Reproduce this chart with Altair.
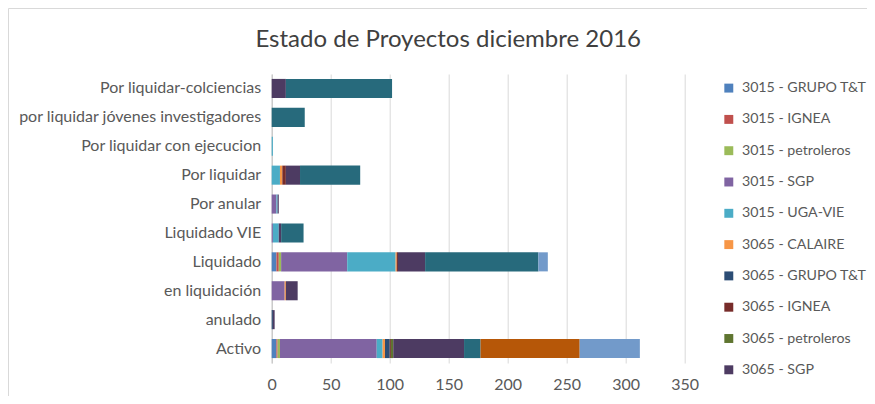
import altair as alt
import pandas as pd

categories = [
    "Por liquidar-colciencias",
    "por liquidar jóvenes investigadores",
    "Por liquidar con ejecucion",
    "Por liquidar",
    "Por anular",
    "Liquidado VIE",
    "Liquidado",
    "en liquidación",
    "anulado",
    "Activo",
]

series_names = [
    "3015 - GRUPO T&T",
    "3015 - IGNEA",
    "3015 - petroleros",
    "3015 - SGP",
    "3015 - UGA-VIE",
    "3065 - CALAIRE",
    "3065 - GRUPO T&T",
    "3065 - IGNEA",
    "3065 - petroleros",
    "3065 - SGP",
    "3065 - UGA-VIE",
    "3066 - CALAIRE",
    "3066 - GRUPO T&T",
]

s_3015_grupo = [0, 0, 0, 0, 0, 0, 4, 0, 0, 4]
s_3015_ignea = [0, 0, 0, 0, 0, 0, 2, 0, 0, 1]
s_3015_petro = [0, 0, 0, 0, 0, 0, 2, 0, 0, 2]
s_3015_sgp = [0, 0, 0, 0, 4, 1, 56, 11, 0, 82]
s_3015_uga = [0, 0, 1, 7, 1, 5, 41, 0, 0, 5]
s_3065_calaire = [0, 0, 0, 2, 0, 0, 1, 1, 0, 2]
s_3065_grupo = [0, 0, 0, 0, 0, 0, 0, 0, 1, 4]
s_3065_ignea = [0, 0, 0, 3, 0, 0, 1, 0, 0, 1]
s_3065_petro = [0, 0, 0, 0, 0, 0, 0, 0, 0, 2]
s_3065_sgp = [12, 0, 0, 12, 1, 2, 23, 10, 1.5, 60]
s_3065_uga = [90, 28, 0, 51, 0, 19, 96, 0, 0, 14]
s_3066_calaire = [0, 0, 0, 0, 0, 0, 0, 0, 0, 84]
s_3066_grupo = [0, 0, 0, 0, 0, 0, 8, 0, 0, 51]

series_values = [
    s_3015_grupo, s_3015_ignea, s_3015_petro, s_3015_sgp, s_3015_uga,
    s_3065_calaire, s_3065_grupo, s_3065_ignea, s_3065_petro, s_3065_sgp,
    s_3065_uga, s_3066_calaire, s_3066_grupo,
]

colors = [
    "#4F81BD", "#C0504D", "#9BBB59", "#8064A2", "#4BACC6", "#F79646",
    "#2C4D75", "#772C2A", "#5F7530", "#4D3B62", "#276A7C", "#B65708", "#729ACA",
]

x_ticks = [0, 50, 100, 150, 200, 250, 300, 350]
title_text = ["Estado de Proyectos diciembre 2016"]

rows = []
for si, (name, vals) in enumerate(zip(series_names, series_values)):
    for cat, v in zip(categories, vals):
        if v > 0:
            rows.append({"estado": cat, "serie": name, "orden": si, "valor": v})
df = pd.DataFrame(rows)

FONT = "Lato"
TXT = "#595959"
W, H = 413, 289

bars = alt.Chart(df).mark_bar().encode(
    y=alt.Y(
        "estado:N",
        sort=categories,
        title=None,
        scale=alt.Scale(paddingInner=0.34, paddingOuter=0.17),
        axis=alt.Axis(
            labelFont=FONT, labelFontSize=16, labelColor=TXT, labelPadding=11,
            labelLimit=320, ticks=False, domain=True, domainColor="#BFBFBF",
            grid=False,
        ),
    ),
    x=alt.X(
        "valor:Q",
        stack="zero",
        title=None,
        scale=alt.Scale(domain=[0, 350], nice=False),
        axis=alt.Axis(
            values=x_ticks, labelFont=FONT, labelFontSize=16, labelColor=TXT,
            ticks=False, domain=False, grid=True, gridColor="#D9D9D9",
            labelPadding=13, labelFlush=False,
        ),
    ),
    color=alt.Color(
        "serie:N",
        scale=alt.Scale(domain=series_names, range=colors),
        legend=alt.Legend(
            title=None, values=series_names[:10], orient="none",
            legendX=450, legendY=7, symbolType="square", symbolSize=80,
            symbolStrokeWidth=0, labelFont=FONT, labelFontSize=14.2,
            labelColor=TXT, rowPadding=16.3, labelOffset=6, labelLimit=300,
        ),
    ),
    order=alt.Order("orden:Q"),
)

title = alt.Chart(pd.DataFrame({"t": title_text})).mark_text(
    font=FONT, fontSize=24, color="#404040", align="center", baseline="alphabetic"
).encode(text="t:N", x=alt.value(176.5), y=alt.value(-27.5))

frame = alt.Chart(pd.DataFrame({"k": [0]})).mark_rule(color="#D9D9D9", strokeWidth=1).encode(
    x=alt.value(-263.2), y=alt.value(-65.5), y2=alt.value(H + 40)
)
frame_top = alt.Chart(pd.DataFrame({"k": [0]})).mark_rule(color="#D9D9D9", strokeWidth=1).encode(
    x=alt.value(-263.2), x2=alt.value(W + 200), y=alt.value(-65.5)
)

chart = alt.layer(frame, frame_top, title, bars).properties(
    width=W,
    height=H,
    autosize=alt.AutoSizeParams(type="none"),
    padding={"left": 263.7, "top": 66, "right": 182.3, "bottom": 33},
).configure_view(stroke=None)

chart.save("out.html", embed_options={"renderer": "svg", "actions": False})
